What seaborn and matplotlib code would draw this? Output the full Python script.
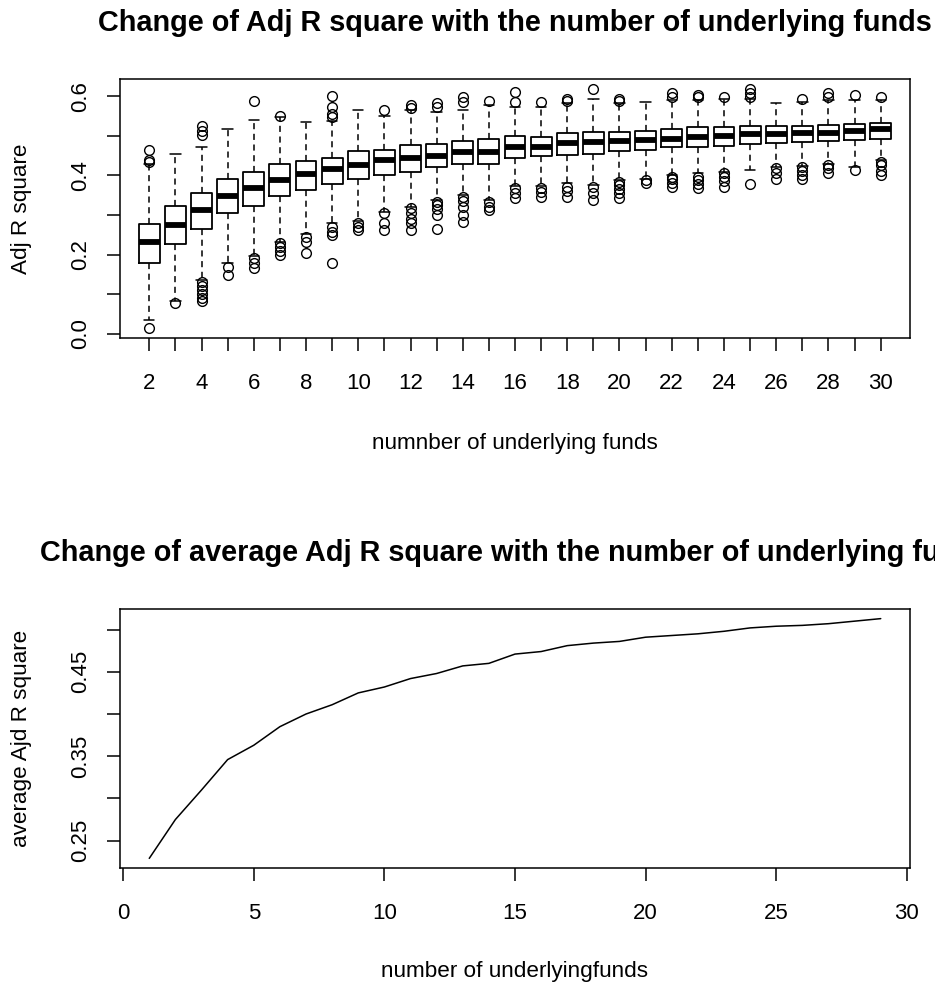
import matplotlib
matplotlib.use("Agg")
import matplotlib.pyplot as plt
import seaborn as sns
import numpy as np
import pandas as pd

# ---------------- data ----------------
n_funds = list(range(2, 31))
box_q1 = [0.178, 0.228, 0.266, 0.304, 0.324, 0.348, 0.363, 0.378, 0.390, 0.401,
          0.408, 0.420, 0.429, 0.429, 0.445, 0.448, 0.451, 0.455, 0.461, 0.464,
          0.471, 0.471, 0.474, 0.479, 0.482, 0.485, 0.487, 0.489, 0.491]
box_med = [0.233, 0.275, 0.313, 0.348, 0.367, 0.388, 0.403, 0.415, 0.425, 0.438,
           0.445, 0.450, 0.460, 0.460, 0.472, 0.472, 0.482, 0.485, 0.487, 0.489,
           0.492, 0.496, 0.499, 0.504, 0.504, 0.506, 0.508, 0.513, 0.516]
box_q3 = [0.277, 0.324, 0.355, 0.391, 0.409, 0.429, 0.437, 0.445, 0.461, 0.465,
          0.476, 0.479, 0.487, 0.491, 0.499, 0.497, 0.506, 0.510, 0.510, 0.513,
          0.517, 0.521, 0.521, 0.525, 0.525, 0.525, 0.527, 0.529, 0.531]
box_whislo = [0.035, 0.084, 0.136, 0.178, 0.197, 0.233, 0.252, 0.279, 0.285, 0.308,
              0.321, 0.338, 0.350, 0.339, 0.373, 0.373, 0.380, 0.376, 0.388, 0.392,
              0.401, 0.405, 0.409, 0.413, 0.422, 0.424, 0.430, 0.422, 0.440]
box_whishi = [0.430, 0.455, 0.471, 0.518, 0.541, 0.548, 0.534, 0.538, 0.565, 0.550,
              0.565, 0.560, 0.566, 0.577, 0.573, 0.573, 0.582, 0.592, 0.582, 0.586,
              0.590, 0.590, 0.592, 0.592, 0.583, 0.586, 0.590, 0.590, 0.590]
box_fliers = [
    [0.464, 0.439, 0.434, 0.014],
    [0.079],
    [0.524, 0.513, 0.502, 0.132, 0.120, 0.110, 0.100, 0.090, 0.082],
    [0.170, 0.149],
    [0.588, 0.191, 0.178, 0.166],
    [0.551, 0.229, 0.220, 0.210, 0.200],
    [0.245, 0.233, 0.205],
    [0.600, 0.573, 0.556, 0.548, 0.271, 0.258, 0.250, 0.178],
    [0.279, 0.271, 0.261],
    [0.565, 0.304, 0.279, 0.262],
    [0.577, 0.571, 0.317, 0.305, 0.290, 0.280, 0.262],
    [0.583, 0.573, 0.334, 0.325, 0.315, 0.300, 0.266],
    [0.597, 0.586, 0.346, 0.336, 0.320, 0.300, 0.283],
    [0.588, 0.334, 0.321, 0.313],
    [0.611, 0.586, 0.367, 0.355, 0.342],
    [0.586, 0.367, 0.359, 0.346],
    [0.594, 0.588, 0.371, 0.360, 0.346],
    [0.619, 0.371, 0.355, 0.339],
    [0.594, 0.588, 0.384, 0.375, 0.365, 0.355, 0.342],
    [0.388, 0.380],
    [0.607, 0.598, 0.397, 0.390, 0.380, 0.371],
    [0.603, 0.597, 0.397, 0.388, 0.378, 0.367],
    [0.597, 0.405, 0.395, 0.385, 0.370],
    [0.619, 0.607, 0.598, 0.378],
    [0.418, 0.405, 0.392],
    [0.594, 0.422, 0.410, 0.400, 0.392],
    [0.607, 0.598, 0.426, 0.418, 0.405],
    [0.603, 0.413],
    [0.598, 0.434, 0.425, 0.410, 0.400],
]

avg_x = list(range(1, 30))
avg_adj_r2 = [0.229, 0.275, 0.310, 0.346, 0.363, 0.385, 0.400, 0.411, 0.425, 0.432,
              0.442, 0.448, 0.457, 0.460, 0.471, 0.474, 0.481, 0.484, 0.486, 0.491,
              0.493, 0.495, 0.498, 0.502, 0.504, 0.505, 0.507, 0.510, 0.513]

# ---------------- style ----------------
sns.set_theme(style="white")
plt.rcParams['font.family'] = ['Liberation Sans', 'DejaVu Sans']
plt.rcParams['text.color'] = 'black'
plt.rcParams['axes.edgecolor'] = 'black'
plt.rcParams['axes.linewidth'] = 1.1

W, H = 935, 990
fig = plt.figure(figsize=(W / 100, H / 100), dpi=100)
fig.patch.set_facecolor('white')

def frac_axes(left, top, right, bottom):
    return fig.add_axes([left / W, 1 - bottom / H, (right - left) / W, (bottom - top) / H])

TICK_FS = 16
LAB_FS = 16.2
TITLE_FS = 20.8

# ---------------- top: boxplots ----------------
ax1 = frac_axes(120, 79, 910, 338)
stats = []
for i, n in enumerate(n_funds):
    stats.append(dict(med=box_med[i], q1=box_q1[i], q3=box_q3[i],
                      whislo=box_whislo[i], whishi=box_whishi[i],
                      fliers=box_fliers[i], label=str(n)))
ax1.bxp(stats, positions=n_funds, widths=0.8, patch_artist=False,
        boxprops=dict(color='black', linewidth=1.3),
        medianprops=dict(color='black', linewidth=4.2, solid_capstyle='butt'),
        whiskerprops=dict(color='black', linewidth=1.1, linestyle=(0, (4, 3))),
        capprops=dict(color='black', linewidth=1.1),
        flierprops=dict(marker='o', markerfacecolor='none', markeredgecolor='black',
                        markersize=7, markeredgewidth=1.0),
        capwidths=0.4)
ax1.set_xlim(0.88, 31.12)
ax1.set_ylim(-0.0102, 0.6432)
ax1.set_xticks(n_funds)
ax1.set_xticklabels([str(n) if n % 2 == 0 else '' for n in n_funds])
yt = [0.0, 0.1, 0.2, 0.3, 0.4, 0.5, 0.6]
ax1.set_yticks(yt)
ax1.set_yticklabels(['0.0', '', '0.2', '', '0.4', '', '0.6'])

# ---------------- bottom: average line ----------------
ax2 = frac_axes(120, 609, 910, 868)
df = pd.DataFrame({'n': avg_x, 'avg': avg_adj_r2})
sns.lineplot(data=df, x='n', y='avg', ax=ax2, color='black', linewidth=1.1)
ax2.set_xlim(-0.12, 30.12)
ax2.set_ylim(0.2176, 0.5244)
ax2.set_xticks([0, 5, 10, 15, 20, 25, 30])
ax2.set_yticks([0.25, 0.30, 0.35, 0.40, 0.45, 0.50])
ax2.set_yticklabels(['0.25', '', '0.35', '', '0.45', ''])
ax2.set_xlabel('')
ax2.set_ylabel('')

for ax in (ax1, ax2):
    ax.tick_params(axis='both', which='both', direction='out', length=9.5, width=1.1,
                   color='black', labelsize=TICK_FS, labelcolor='black',
                   bottom=True, left=True, top=False, right=False)
    ax.tick_params(axis='x', pad=16)
    ax.tick_params(axis='y', pad=11)
    for lab in ax.get_yticklabels():
        lab.set_rotation(90)
        lab.set_va('center')
    for s in ax.spines.values():
        s.set_visible(True)
        s.set_color('black')
        s.set_linewidth(1.1)
    ax.grid(False)
    ax.set_facecolor('white')

# ---------------- texts ----------------
cx = 515 / W
fig.text(cx, 1 - 23 / H, 'Change of Adj R square with the number of underlying funds',
         ha='center', va='center', fontsize=TITLE_FS, fontweight='bold')
fig.text(cx, 1 - 444 / H, 'numnber of underlying funds', ha='center', va='center',
         fontsize=LAB_FS)
fig.text(22 / W, 1 - 209 / H, 'Adj R square', ha='center', va='center', rotation=90,
         fontsize=LAB_FS)

fig.text(cx, 1 - 553 / H, 'Change of average Adj R square with the number of underlying funds',
         ha='center', va='center', fontsize=TITLE_FS, fontweight='bold')
fig.text(cx, 1 - 972 / H, 'number of underlyingfunds', ha='center', va='center',
         fontsize=LAB_FS)
fig.text(22 / W, 1 - 738 / H, 'average Ajd R square', ha='center', va='center', rotation=90,
         fontsize=LAB_FS)

fig.savefig('out.png', dpi=100, facecolor='white')
